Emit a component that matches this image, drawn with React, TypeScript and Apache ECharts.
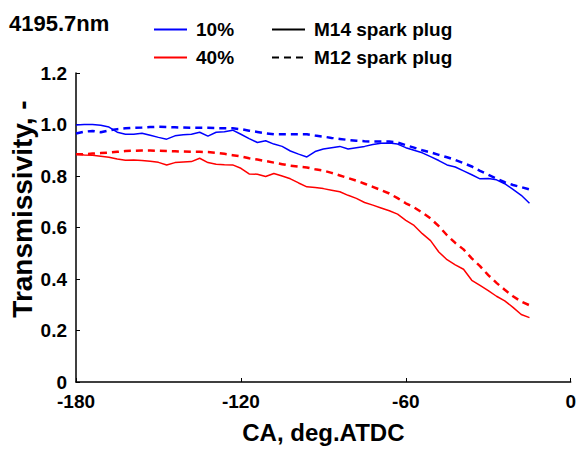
import React, { useEffect, useRef } from "react";
import * as echarts from "echarts";

const crankAngle = [
  -180, -177, -174, -171, -168, -165, -162, -159, -156, -153, -150, -147, -144, -141,
  -138, -135, -132, -129, -126, -123, -120, -117, -114, -111, -108, -105, -102, -99,
  -96, -93, -90, -87, -84, -81, -78, -75, -72, -69, -66, -63, -60, -57, -54, -51,
  -48, -45, -42, -39, -36, -33, -30, -27, -24, -21, -18, -15,
];

const blueM14 = [
  0.998, 1.0, 1.0, 0.997, 0.99, 0.97, 0.962, 0.962, 0.966, 0.958, 0.95, 0.943, 0.956, 0.96,
  0.962, 0.97, 0.955, 0.97, 0.972, 0.978, 0.962, 0.945, 0.93, 0.937, 0.924, 0.915, 0.897, 0.885,
  0.874, 0.895, 0.905, 0.91, 0.915, 0.905, 0.91, 0.915, 0.922, 0.927, 0.928, 0.924, 0.91, 0.9,
  0.89, 0.875, 0.86, 0.843, 0.835, 0.82, 0.805, 0.789, 0.79, 0.785, 0.77, 0.748, 0.725, 0.694,
];

const blueM12 = [
  0.965, 0.972, 0.975, 0.97, 0.977, 0.982, 0.985, 0.987, 0.988, 0.99, 0.991, 0.99, 0.989, 0.988,
  0.987, 0.987, 0.987, 0.986, 0.985, 0.985, 0.982, 0.976, 0.971, 0.966, 0.962, 0.962, 0.962, 0.962,
  0.962, 0.957, 0.953, 0.948, 0.944, 0.94, 0.937, 0.935, 0.934, 0.934, 0.934, 0.93, 0.92, 0.91,
  0.9, 0.892, 0.882, 0.873, 0.862, 0.85, 0.837, 0.82, 0.805, 0.79, 0.776, 0.765, 0.757, 0.748,
];

const redM14 = [
  0.884, 0.882, 0.881, 0.877, 0.873, 0.866, 0.861, 0.862, 0.86, 0.857, 0.853, 0.843, 0.852, 0.854,
  0.856, 0.869, 0.852, 0.846, 0.844, 0.843, 0.83, 0.808, 0.807, 0.798, 0.81, 0.8, 0.789, 0.773,
  0.758, 0.755, 0.751, 0.745, 0.739, 0.725, 0.713, 0.697, 0.687, 0.676, 0.665, 0.652, 0.628, 0.608,
  0.576, 0.549, 0.505, 0.475, 0.455, 0.438, 0.395, 0.375, 0.355, 0.333, 0.315, 0.29, 0.262, 0.25,
];

const redM12 = [
  0.884, 0.885, 0.887, 0.889, 0.891, 0.894, 0.897, 0.898, 0.899, 0.899, 0.898, 0.897, 0.896, 0.895,
  0.894, 0.894, 0.893, 0.89, 0.886, 0.881, 0.876, 0.869, 0.864, 0.858, 0.852, 0.846, 0.84, 0.836,
  0.833, 0.826, 0.821, 0.812, 0.802, 0.792, 0.782, 0.77, 0.758, 0.745, 0.732, 0.714, 0.694, 0.678,
  0.658, 0.635, 0.605, 0.57, 0.54, 0.515, 0.48, 0.45, 0.415, 0.385, 0.358, 0.333, 0.312, 0.298,
];

const xTicks = { min: -180, max: 0, interval: 60 };
const yTicks = { min: 0, max: 1.2, interval: 0.2 };

const FONT = "Liberation Sans, Arial, sans-serif";
const BLUE = "#0000ff";
const RED = "#ff0000";
const DASH = [7, 5];

const pair = (ys: number[]) => crankAngle.map((x, i) => [x, ys[i]]);

export default function App() {
  const ref = useRef<HTMLDivElement>(null);
  useEffect(() => {
    if (!ref.current) return;
    const chart = echarts.init(ref.current, undefined, { renderer: "svg" });
    const lineSeries = (name: string, data: number[][], color: string, dashed: boolean) => ({
      name,
      type: "line",
      data,
      symbol: "none",
      smooth: false,
      lineStyle: { color, width: dashed ? 2.5 : 1.5, type: dashed ? DASH : "solid" },
      itemStyle: { color },
      z: dashed ? 3 : 2,
    });
    const legendSeries = (name: string, color: string, dashed: boolean) => ({
      name,
      type: "line",
      data: [],
      symbol: "none",
      lineStyle: { color, width: 2, type: dashed ? DASH : "solid" },
      itemStyle: { color },
    });
    const legendBase = {
      orient: "vertical",
      top: 19,
      padding: 0,
      itemWidth: 33,
      itemHeight: 14,
      itemGap: 7,
      selectedMode: false,
      itemStyle: { opacity: 0 },
      textStyle: {
        fontFamily: FONT,
        fontSize: 19,
        fontWeight: "bold",
        color: "#000",
        lineHeight: 21,
        padding: [0, 0, 0, 4],
      },
    };
    chart.setOption({
      animation: false,
      backgroundColor: "#fff",
      title: {
        text: "4195.7nm",
        left: 9,
        top: 12,
        padding: 0,
        textStyle: { fontFamily: FONT, fontSize: 22, fontWeight: "bold", color: "#000" },
      },
      legend: [
        { ...legendBase, left: 153, data: ["10%", "40%"] },
        { ...legendBase, left: 271, data: ["M14 spark plug", "M12 spark plug"] },
      ],
      grid: { left: 76, right: 7, top: 73, bottom: 59, containLabel: false },
      xAxis: {
        type: "value",
        min: xTicks.min,
        max: xTicks.max,
        interval: xTicks.interval,
        name: "CA, deg.ATDC",
        nameLocation: "middle",
        nameGap: 38,
        nameTextStyle: { fontFamily: FONT, fontSize: 24, fontWeight: "bold", color: "#000" },
        axisLine: { show: true, onZero: false, lineStyle: { color: "#000", width: 1.5 } },
        axisTick: { show: true, inside: true, length: 4, lineStyle: { color: "#000" } },
        axisLabel: { fontFamily: FONT, fontSize: 19, fontWeight: "bold", color: "#000", margin: 10 },
        splitLine: { show: false },
      },
      yAxis: {
        type: "value",
        min: yTicks.min,
        max: yTicks.max,
        interval: yTicks.interval,
        axisLine: { show: true, onZero: false, lineStyle: { color: "#000", width: 1.5 } },
        axisTick: { show: true, inside: true, length: 4, lineStyle: { color: "#000" } },
        axisLabel: {
          fontFamily: FONT,
          fontSize: 19,
          fontWeight: "bold",
          color: "#000",
          margin: 9,
          formatter: (v: number) => (v === 0 ? "0" : v.toFixed(1)),
        },
        splitLine: { show: false },
      },
      graphic: [
        {
          type: "text",
          x: 22,
          y: 209,
          rotation: Math.PI / 2,
          style: {
            text: "Transmissivity, -",
            fontFamily: FONT,
            fontSize: 28,
            fontWeight: "bold",
            fill: "#000",
            align: "center",
            verticalAlign: "middle",
          },
        },
      ],
      series: [
        lineSeries("10% M14", pair(blueM14), BLUE, false),
        lineSeries("10% M12", pair(blueM12), BLUE, true),
        lineSeries("40% M14", pair(redM14), RED, false),
        lineSeries("40% M12", pair(redM12), RED, true),
        legendSeries("10%", BLUE, false),
        legendSeries("40%", RED, false),
        legendSeries("M14 spark plug", "#000", false),
        legendSeries("M12 spark plug", "#000", true),
      ],
    });
    return () => chart.dispose();
  }, []);
  return <div ref={ref} style={{ width: 579, height: 449, position: "absolute", left: 0, top: 0 }} />;
}
